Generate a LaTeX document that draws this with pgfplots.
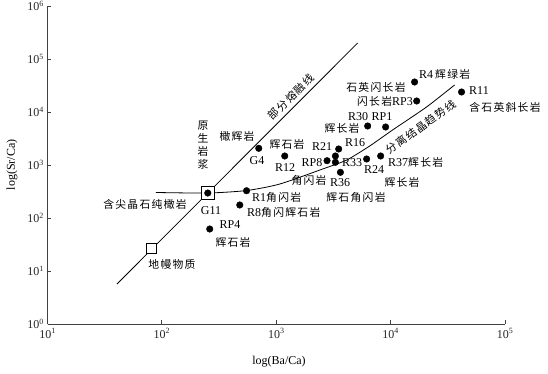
\documentclass[border=0pt]{standalone}
\usepackage{fontspec}
\setmainfont{Liberation Serif}
\newfontfamily\cjk[LetterSpace=12]{Noto Sans CJK SC}
\usepackage{pgfplots}
\pgfplotsset{compat=1.18}
\usetikzlibrary{calc}

\newcommand\zh[1]{{\cjk\fontsize{10.8}{12}\selectfont #1}}

\begin{document}
\begin{tikzpicture}
\begin{axis}[
  name=ax, scale only axis, width=457.5pt, height=318pt,
  xmode=log, ymode=log, xmin=10, xmax=1e5, ymin=1, ymax=1e6,
  axis x line*=bottom, axis y line*=left,
  axis line style={line width=0.9pt, black!75},
  tick align=inside, major tick length=4pt, xminorticks=false, yminorticks=false,
  tick style={line width=0.8pt, black!75},
  xtick={10,100,1000,10000,100000},
  xticklabels={10\textsuperscript{1},10\textsuperscript{2},10\textsuperscript{3},10\textsuperscript{4},10\textsuperscript{5}},
  ytick={1,10,100,1000,10000,100000,1000000},
  yticklabels={10\textsuperscript{0},10\textsuperscript{1},10\textsuperscript{2},10\textsuperscript{3},10\textsuperscript{4},10\textsuperscript{5},10\textsuperscript{6}},
  tick label style={font=\fontsize{12}{14}\selectfont, black!85},
  xticklabel style={yshift=-1pt},
  clip=false]
% partial melting line
\addplot[black, line width=0.8pt] coordinates {(40.5,5.69) (5150,200500)};
% fractional crystallization trend
\addplot[black, line width=0.8pt, smooth, tension=0.4] coordinates {
  (88.7,303) (252,296) (552,330) (1075,438) (2548,841) (4130,1243)
  (6560,2282) (10400,4575) (20600,12420) (36200,32300)};
% mantle and primary magma
\addplot[only marks, mark=square*, mark size=5pt, mark options={fill=white, draw=black, line width=0.8pt}] coordinates {(81.8,27.2)};
\addplot[only marks, mark=square*, mark size=6.5pt, mark options={fill=white, draw=black, line width=0.8pt}] coordinates {(252,296)};
% samples
\addplot[only marks, mark=*, mark size=3.3pt, black] coordinates {
  (703,2065) (252,296) (550,327) (480,176) (262,62) (1186,1479)
  (3515,2004) (3290,1479) (2780,1206) (3290,1125) (3640,728)
  (6300,5445) (9040,5212) (6170,1298) (8180,1479)
  (16200,36800) (16900,16130) (41700,23850)};
\end{axis}

\begin{scope}[x=1pt, y=-1pt, shift={($(ax.south west)+(-47.5pt,324pt)$)},
  every node/.style={inner sep=0pt, font=\fontsize{12}{14}\selectfont}]
\node[rotate=90] at (12,165) {log(Sr/Ca)};
\node at (279,362) {log(Ba/Ca)};
\node[rotate=45] at (291,97) {\zh{部分熔融线}};
\node[rotate=36] at (421,127) {\zh{分离结晶趋势线}};
\node[align=center, font=\cjk\fontsize{10.8}{12.8}\selectfont] at (203,145) {原\\生\\岩\\浆};
\node at (237,136) {\zh{橄辉岩}};
\node at (257,161) {G4};
\node at (287,144) {\zh{辉石岩}};
\node at (285,168) {R12};
\node at (312,163) {RP8};
\node at (322,147) {R21};
\node at (355,143) {R16};
\node at (352,163) {R33};
\node at (309,180) {\zh{角闪岩}};
\node at (340,183) {R36};
\node at (356,197) {\zh{辉石角闪岩}};
\node[anchor=west] at (252,197) {R1\zh{角闪岩}};
\node[anchor=west] at (247,212) {R8\zh{角闪辉石岩}};
\node at (211,211) {G11};
\node at (230,225) {RP4};
\node at (233,242) {\zh{辉石岩}};
\node at (145,204) {\zh{含尖晶石纯橄岩}};
\node at (172,264) {\zh{地幔物质}};
\node at (342,128) {\zh{辉长岩}};
\node at (358,117) {R30};
\node at (382,117) {RP1};
\node at (374,170) {R24};
\node[anchor=west] at (388,162) {R37\zh{辉长岩}};
\node at (402,182) {\zh{辉长岩}};
\node[anchor=west] at (419,74) {R4\,\zh{辉绿岩}};
\node at (376,87) {\zh{石英闪长岩}};
\node[anchor=east] at (413,101) {\zh{闪长岩}RP3};
\node[anchor=west] at (469,91) {R11};
\node at (505,107) {\zh{含石英斜长岩}};
\end{scope}
\pgfresetboundingbox
\path ($(ax.south west)+(-47.5pt,-49pt)$) rectangle ($(ax.north east)+(43pt,6pt)$);
\end{tikzpicture}
\end{document}
